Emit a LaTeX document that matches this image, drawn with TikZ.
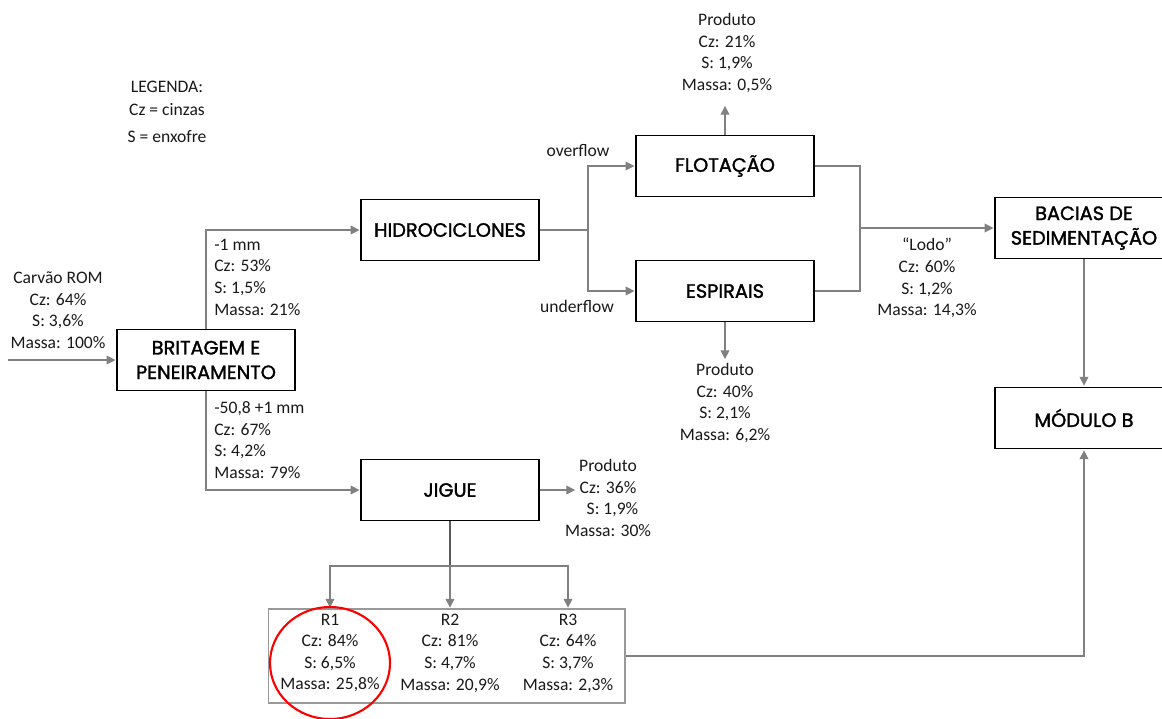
\documentclass[tikz,border=0pt]{standalone}
\usepackage{fontspec}
\setmainfont{Carlito}
\newfontfamily\boxfont[FakeBold=1.6]{Poppins}
\usetikzlibrary{arrows.meta,positioning,calc}

\begin{document}
\begin{tikzpicture}[
  x=0.02cm, y=-0.02cm,
  every node/.style={font=\fontsize{10}{12.3}\selectfont, inner sep=0pt, text=black!90},
  box/.style={draw=black, line width=1.1pt, minimum width=3.55cm, minimum height=1.22cm,
    align=center, font=\boxfont\fontsize{11}{14}\selectfont, text=black},
  info/.style={align=center},
  infol/.style={align=left, anchor=west},
  line/.style={draw=black!50, line width=0.6pt},
  arr/.style={line, -{Triangle[length=5pt,width=5pt]}, shorten >=0.5pt},
]
\useasboundingbox (0,0) rectangle (1162,718);
\clip (0,0) rectangle (1162,718);

% legenda
\node[info] (legenda) at (167,112) {LEGENDA:\\[1pt]Cz = cinzas\\[3pt]S = enxofre};

% britagem e peneiramento
\node[box] (britagem) at (206,360) {BRITAGEM E\\PENEIRAMENTO};
\node[info] (rom) at (58,310) {Carvão ROM\\Cz: 64\%\\S: 3,6\%\\Massa: 100\%};
\coordinate (in) at (8,360);
\draw[arr] (in) -- (britagem);

% fino
\node[box] (hidro) at (450,230) {HIDROCICLONES};
\node[infol] (fino) at (214,277) {-1 mm\\Cz: 53\%\\S: 1,5\%\\Massa: 21\%};
\draw[arr] (britagem.north) |- (hidro.west);

% grosso
\node[box] (jigue) at (450,490) {JIGUE};
\node[infol] (grosso) at (214,440) {-50,8 +1 mm\\Cz: 67\%\\S: 4,2\%\\Massa: 79\%};
\draw[arr] (britagem.south) |- (jigue.west);

% flotacao / espirais
\node[box] (flot) at (725,166) {FLOTAÇÃO};
\node[box] (espirais) at (725,291) {ESPIRAIS};
\coordinate (hsplit) at (588,230);
\draw[line] (hidro.east) -- (hsplit);
\draw[arr] (hsplit) |- (flot.west);
\draw[arr] (hsplit) |- (espirais.west);
\node (over) at (578,151) {overflow};
\node (under) at (577,306) {underflow};

\node[info] (prodflot) at (727,53) {Produto\\Cz: 21\%\\S: 1,9\%\\Massa: 0,5\%};
\coordinate (pf) at (725,105);
\draw[arr] (flot.north) -- (pf);

\node[info] (prodesp) at (725,403) {Produto\\Cz: 40\%\\S: 2,1\%\\Massa: 6,2\%};
\coordinate (pe) at (725,360);
\draw[arr] (espirais.south) -- (pe);

% lodo
\node[box] (bacias) at (1084,228) {BACIAS DE\\SEDIMENTAÇÃO};
\node[box] (modulo) at (1084,418) {MÓDULO B};
\coordinate (lj) at (860,228);
\draw[line] (flot.east) -| (lj);
\draw[line] (espirais.east) -| (lj);
\draw[arr] (lj) -- (bacias.west);
\node[info] (lodo) at (927,278) {``Lodo''\\Cz: 60\%\\S: 1,2\%\\Massa: 14,3\%};
\draw[arr] (bacias) -- (modulo);

% jigue
\node[info] (prodjig) at (608,498) {Produto\\Cz: 36\%\\\phantom{0}S: 1,9\%\\Massa: 30\%};
\coordinate (pj) at (576,490);
\draw[arr] (jigue.east) -- (pj);

\node[draw=black!40, line width=0.6pt, minimum width=7.14cm, minimum height=1.88cm] (rbox) at (446.5,656) {};
\node[info] (r1) at (330,653) {R1\\Cz: 84\%\\S: 6,5\%\\Massa: 25,8\%};
\node[info] (r2) at (450,653) {R2\\Cz: 81\%\\S: 4,7\%\\Massa: 20,9\%};
\node[info] (r3) at (568,653) {R3\\Cz: 64\%\\S: 3,7\%\\Massa: 2,3\%};
\coordinate (jsplit) at (450,566);
\draw[line, draw=black!65] (jigue.south) -- (jsplit);
\draw[arr] (jsplit) -| (r1 |- rbox.north);
\draw[arr] (jsplit) -- (r2 |- rbox.north);
\draw[arr] (jsplit) -| (r3 |- rbox.north);
\draw[arr] (rbox.east) -| (modulo.south);

\draw[red, line width=1.2pt] (330,663) ellipse [x radius=1.2cm, y radius=1.12cm];

\end{tikzpicture}
\end{document}
